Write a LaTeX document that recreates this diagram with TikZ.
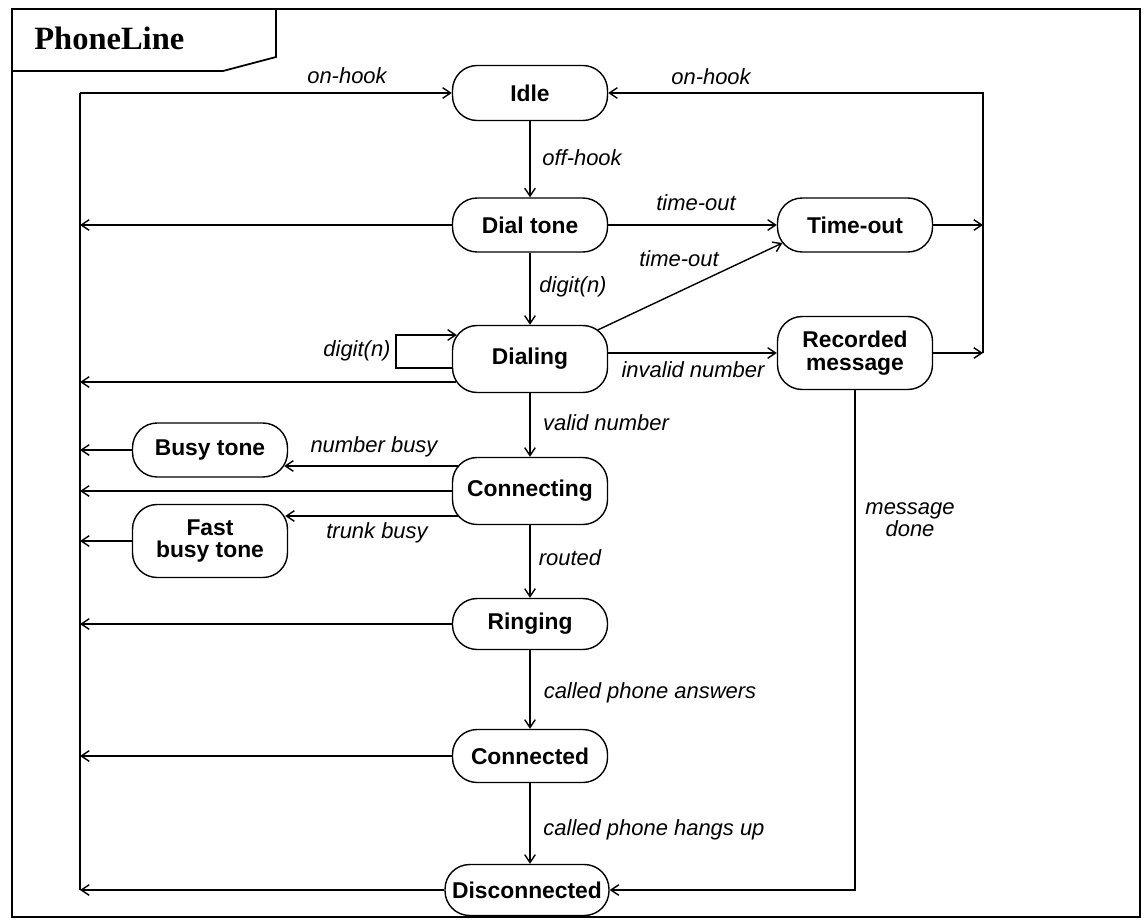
\documentclass[tikz,border=0pt]{standalone}
\usepackage{fontspec}
\setmainfont{Liberation Sans}
\newfontfamily\titlefont{Liberation Serif}
\usetikzlibrary{arrows.meta}
\usetikzlibrary{calc}

\begin{document}
\begin{tikzpicture}[x=0.02cm,y=-0.02cm]
		
		\tikzset{
			state/.style={
				draw,
				line width=0.8pt,
				rounded corners=14pt,
				minimum width=3.1cm,
				minimum height=1.08cm,
				inner sep=1pt,
				align=center,
				font=\fontsize{13}{13}\selectfont\bfseries
			},
			trans/.style={
				inner sep=1pt,
				align=center,
				font=\fontsize{12.5}{10}\selectfont\itshape
			},
			flow/.style={
				line width=0.8pt,
				-{Straight Barb[length=4.5pt,width=6pt]}
			}
		}
		
		\useasboundingbox (0,0) rectangle (1145,919);
		\draw[line width=1pt] (12,9) rectangle (1140,917);
		\draw[line width=1pt] (12,71) -- (223,71) -- (276,57) -- (276,9);
		\node[anchor=base west,inner sep=0pt,font=\titlefont\fontsize{18.5}{20}\selectfont\bfseries] (title) at (34,50) {PhoneLine};
		
		\node[state,minimum height=1.1cm] (idle) at (530,93) {Idle};
		\node[state] (dial) at (530,225) {Dial tone};
		\node[state,minimum height=1.34cm] (dialing) at (530,359) {Dialing};
		\node[state] (tout) at (855,225) {Time-out};
		\node[state,minimum height=1.46cm] (rec) at (855,353) {Recorded\\message};
		\node[state] (busy) at (210,450) {Busy tone};
		\node[state,minimum height=1.46cm] (fast) at (210,541) {Fast\\busy tone};
		\node[state,minimum height=1.34cm] (conn) at (530,491) {Connecting};
		\node[state,minimum height=1.02cm] (ring) at (530,624) {Ringing};
		\node[state,minimum height=1.06cm] (conned) at (530,756) {Connected};
		\node[state,minimum height=1.02cm,minimum width=3.28cm] (disc) at (527,890) {Disconnected};
		
		\coordinate (ltop) at (80,93);
		\coordinate (rtop) at (983,93);
		\coordinate (rbot) at (983,353);
		
		\draw[line width=0.8pt] (disc.west -| ltop) -- (ltop);
		\draw[flow] (ltop) -- (idle.west);
		\draw[flow] (rbot) -- (rtop) -- (idle.east);
		\draw[flow] (tout.east) -- (tout.east -| rtop);
		\draw[flow] (rec.east) -- (rec.east -| rtop);
		\draw[flow] (rec.south) |- (disc.east);
		
		\draw[flow] (idle) -- (dial);
		\draw[flow] (dial) -- (dialing);
		\draw[flow] (dialing) -- (conn);
		\draw[flow] (conn) -- (ring);
		\draw[flow] (ring) -- (conned);
		\draw[flow] (conned) -- (conned |- disc.north);
		
		\draw[flow] (dial) -- (tout);
		\draw[flow] ($(dialing.east)+(-10.5,-29)$) -- ($(tout.west)+(5.6,18)$);
		\draw[flow] (dialing.east |- rec.west) -- (rec.west);
		\draw[flow] ($(dialing.west)+(0,9)$) -- ++(-56,0) -- ++(0,-33) -- ($(dialing.west)+(5,-24)$);
		
		\draw[flow] ($(conn.west)+(6,-25)$) -- ($(busy.east)+(-4,16)$);
		\draw[flow] ($(conn.west)+(6,25)$) -- ($(fast.east)+(-3,-25)$);
		
		\draw[flow] (dial.west) -- (dial.west -| ltop);
		\draw[flow] ($(dialing.west)+(4.5,23)$) -- ($(dialing.west -| ltop)+(0,23)$);
		\draw[flow] (busy.west) -- (busy.west -| ltop);
		\draw[flow] (conn.west) -- (conn.west -| ltop);
		\draw[flow] (fast.west) -- (fast.west -| ltop);
		\draw[flow] (ring.west) -- (ring.west -| ltop);
		\draw[flow] (conned.west) -- (conned.west -| ltop);
		\draw[flow] (disc.west) -- (disc.west -| ltop);
		
		\node[trans] (lon1) at (347,76) {on-hook};
		\node[trans] (lon2) at (711,77) {on-hook};
		\node[trans] (loff) at (582,158) {off-hook};
		\node[trans] (lto1) at (696,203) {time-out};
		\node[trans] (lto2) at (679,259) {time-out};
		\node[trans] (ldig1) at (573,287) {digit(n)};
		\node[trans] (ldig2) at (357,351) {digit(n)};
		\node[trans] (linv) at (693,370) {invalid number};
		\node[trans] (lval) at (606,423) {valid number};
		\node[trans] (lnb) at (374,447) {number busy};
		\node[trans] (ltb) at (377,533) {trunk busy};
		\node[trans] (lrout) at (570,558) {routed};
		\node[trans] (lans) at (650,693) {called phone answers};
		\node[trans] (lhang) at (654,830) {called phone hangs up};
		\node[trans] (ldone) at (910,520) {message\\done};
		
	\end{tikzpicture}
\end{document}
